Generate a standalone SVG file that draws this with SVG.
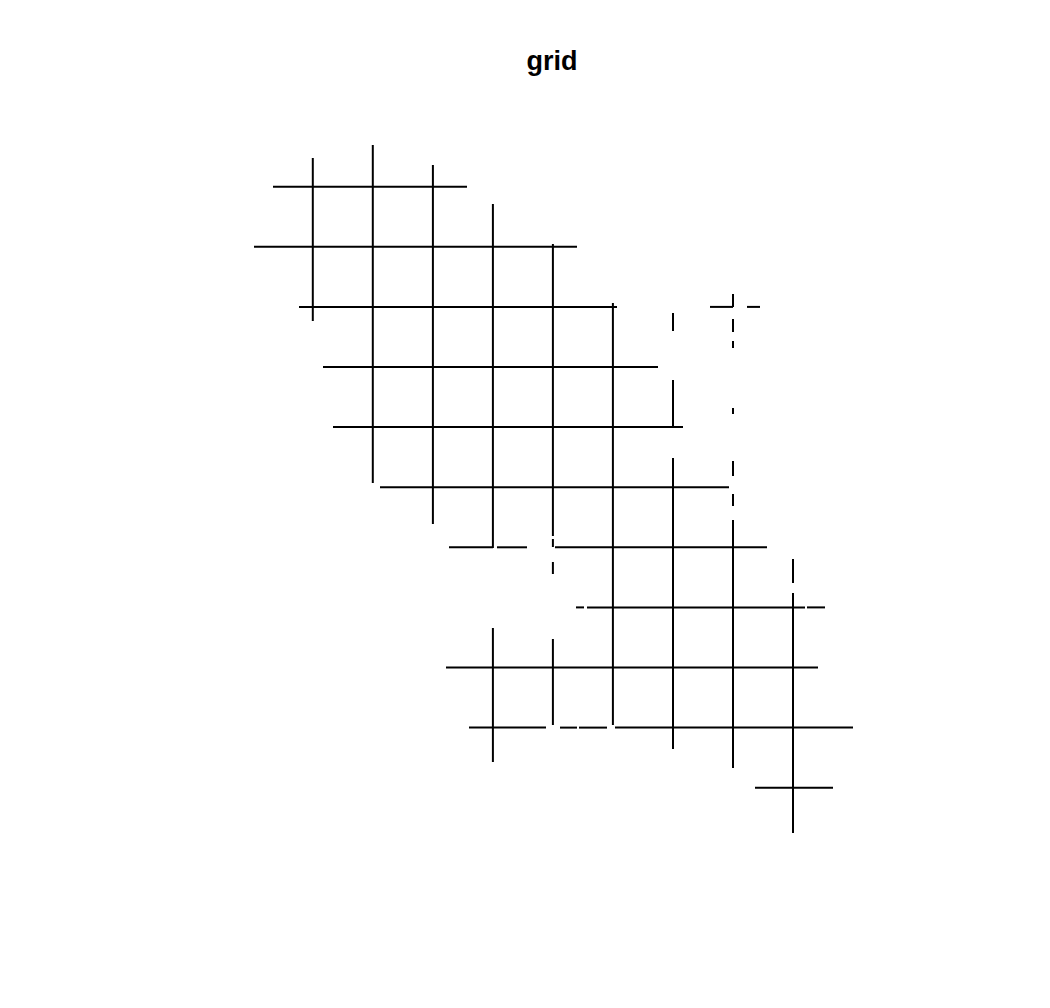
<svg xmlns="http://www.w3.org/2000/svg" width="1050" height="1008" viewBox="0 0 1050 1008">
<style>
.t{font-family:"Liberation Sans",Arial,sans-serif;font-weight:bold;font-size:27px;fill:#000}
.g line{stroke:#000;stroke-width:2;stroke-linecap:butt}
</style>
<rect width="1050" height="1008" fill="#fff"/>
<text class="t" x="552" y="70" text-anchor="middle">grid</text>
<g id="horizontal" class="g">
<line x1="273" y1="186.7" x2="467" y2="186.7"/>
<line x1="254" y1="246.8" x2="577" y2="246.8"/>
<line x1="299" y1="306.9" x2="617" y2="306.9"/>
<line x1="710" y1="306.9" x2="733" y2="306.9"/>
<line x1="747" y1="306.9" x2="760" y2="306.9"/>
<line x1="323" y1="367" x2="658" y2="367"/>
<line x1="333" y1="427.1" x2="683" y2="427.1"/>
<line x1="380" y1="487.2" x2="729" y2="487.2"/>
<line x1="449" y1="547.3" x2="493" y2="547.3"/>
<line x1="497" y1="547.3" x2="527" y2="547.3"/>
<line x1="555" y1="547.3" x2="767" y2="547.3"/>
<line x1="576" y1="607.4" x2="584" y2="607.4"/>
<line x1="587" y1="607.4" x2="805" y2="607.4"/>
<line x1="807" y1="607.4" x2="825" y2="607.4"/>
<line x1="446" y1="667.5" x2="818" y2="667.5"/>
<line x1="469" y1="727.6" x2="546" y2="727.6"/>
<line x1="560" y1="727.6" x2="577" y2="727.6"/>
<line x1="579" y1="727.6" x2="607" y2="727.6"/>
<line x1="615" y1="727.6" x2="853" y2="727.6"/>
<line x1="755" y1="787.7" x2="833" y2="787.7"/>
</g>
<g id="vertical" class="g">
<line x1="312.8" y1="158" x2="312.8" y2="321"/>
<line x1="372.8" y1="145" x2="372.8" y2="483"/>
<line x1="432.9" y1="165" x2="432.9" y2="524"/>
<line x1="492.9" y1="204" x2="492.9" y2="548"/>
<line x1="492.9" y1="628" x2="492.9" y2="762"/>
<line x1="552.9" y1="244" x2="552.9" y2="536"/>
<line x1="552.9" y1="539" x2="552.9" y2="547"/>
<line x1="552.9" y1="562" x2="552.9" y2="574"/>
<line x1="552.9" y1="639" x2="552.9" y2="725"/>
<line x1="612.9" y1="303" x2="612.9" y2="725"/>
<line x1="673" y1="313" x2="673" y2="331"/>
<line x1="673" y1="380" x2="673" y2="427"/>
<line x1="673" y1="458" x2="673" y2="749"/>
<line x1="733" y1="294" x2="733" y2="307"/>
<line x1="733" y1="319" x2="733" y2="332"/>
<line x1="733" y1="341" x2="733" y2="348"/>
<line x1="733" y1="408" x2="733" y2="414"/>
<line x1="733" y1="461" x2="733" y2="476"/>
<line x1="733" y1="494" x2="733" y2="506"/>
<line x1="733" y1="520" x2="733" y2="768"/>
<line x1="793" y1="559" x2="793" y2="583"/>
<line x1="793" y1="593" x2="793" y2="833"/>
</g>
</svg>
